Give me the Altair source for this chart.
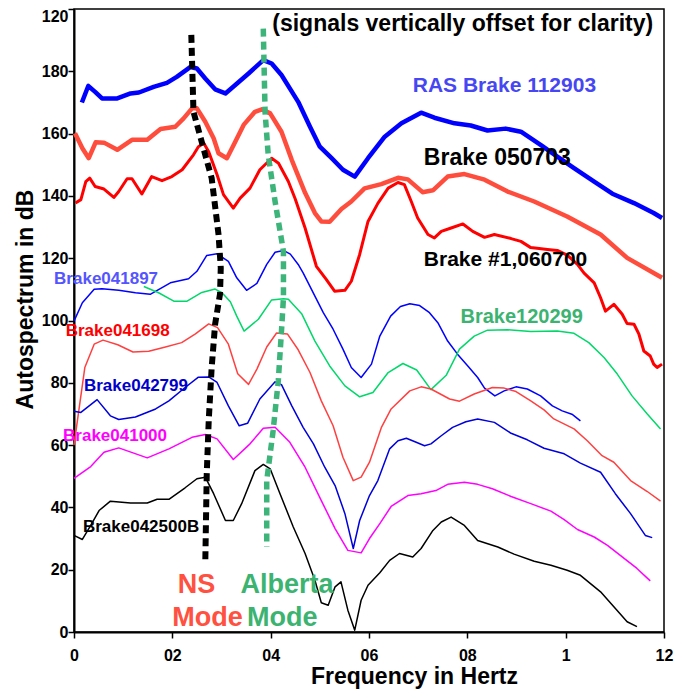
import altair as alt
import pandas as pd

# ---------------- data (frequency in Hz, autospectrum in dB, offset) ----------------
X_TICKS = [0, 0.2, 0.4, 0.6, 0.8, 1.0, 1.2]
Y_TICKS = [0, 20, 40, 60, 80, 100, 120, 140, 160, 180, 200]

RAS_112903 = [(0.016,170.0),(0.029,175.3),(0.043,173.4),(0.057,171.3),(0.088,171.3),(0.115,172.9),(0.132,173.2),
              (0.162,175.0),(0.189,176.3),(0.209,178.2),(0.237,181.4),(0.250,180.9),(0.267,177.7),(0.287,174.2),
              (0.308,172.9),(0.328,175.6),(0.355,179.3),(0.385,183.6),(0.402,182.5),(0.422,178.8),(0.456,170.2),
              (0.480,162.2),(0.500,155.8),(0.524,152.1),(0.547,148.4),(0.571,146.2),(0.598,152.1),(0.632,159.0),
              (0.666,163.3),(0.706,166.7),(0.733,165.1),(0.774,163.3),(0.807,162.6),(0.841,161.0),(0.878,161.6),
              (0.909,160.6),(0.949,156.4),(0.983,152.6),(1.017,148.9),(1.058,144.6),(1.095,140.7),(1.139,137.7),
              (1.179,134.5),(1.196,132.9)]

BRAKE_050703 = [(0.002,160.1),(0.017,155.3),(0.030,152.1),(0.044,157.2),(0.061,157.1),(0.088,154.8),(0.118,158.0),
                (0.149,158.0),(0.176,161.5),(0.206,162.2),(0.223,164.9),(0.240,168.1),(0.250,168.1),(0.267,163.8),
                (0.284,158.5),(0.294,153.7),(0.311,152.1),(0.328,157.4),(0.345,162.8),(0.368,167.0),(0.382,167.8),
                (0.399,166.5),(0.422,160.6),(0.443,151.5),(0.470,141.0),(0.490,134.5),(0.503,131.8),(0.520,131.7),
                (0.544,135.8),(0.564,138.2),(0.591,142.4),(0.625,143.8),(0.659,145.8),(0.679,145.3),(0.709,141.2),
                (0.730,141.8),(0.760,146.2),(0.794,147.0),(0.835,145.2),(0.882,141.4),(0.936,138.2),(1.003,133.4),
                (1.071,127.6),(1.125,120.1),(1.196,113.7)]

BRAKE_1_060700 = [(0.003,137.7),(0.014,138.8),(0.024,144.6),(0.032,145.7),(0.043,143.0),(0.061,142.2),(0.081,139.5),
                  (0.091,141.4),(0.108,145.5),(0.118,145.5),(0.138,140.6),(0.158,146.2),(0.179,144.9),(0.199,146.2),
                  (0.220,148.4),(0.243,153.2),(0.253,155.8),(0.264,156.9),(0.274,154.2),(0.291,146.8),(0.304,140.4),
                  (0.324,136.1),(0.338,139.3),(0.358,142.5),(0.378,148.4),(0.402,152.1),(0.416,150.5),(0.436,144.6),
                  (0.450,139.0),(0.470,129.7),(0.493,117.4),(0.513,113.2),(0.530,109.4),(0.551,109.7),(0.564,112.6),
                  (0.581,121.2),(0.598,131.8),(0.618,137.6),(0.639,142.5),(0.659,144.3),(0.672,143.6),(0.686,138.2),
                  (0.699,132.9),(0.720,127.6),(0.733,126.5),(0.747,128.6),(0.767,129.7),(0.791,131.0),(0.811,128.6),
                  (0.835,126.7),(0.855,127.6),(0.889,126.3),(0.909,125.4),(0.929,123.4),(0.963,122.8),(0.983,122.5),
                  (1.003,121.0),(1.024,118.0),(1.037,115.3),(1.058,112.1),(1.071,107.3),(1.081,103.0),(1.098,105.2),
                  (1.115,102.0),(1.125,99.0),(1.139,98.8),(1.149,95.6),(1.159,90.2),(1.172,88.6),(1.179,86.0),
                  (1.186,84.9),(1.196,86.0)]

BRAKE_041897 = [(0.0,99.8),(0.017,105.7),(0.041,110.0),(0.057,110.2),(0.091,109.7),(0.125,108.9),(0.155,108.4),
                (0.196,112.1),(0.233,113.4),(0.250,115.8),(0.270,120.9),(0.291,121.4),(0.314,119.0),(0.331,113.7),
                (0.351,109.7),(0.372,111.9),(0.392,118.0),(0.409,121.9),(0.426,122.5),(0.440,121.3),(0.456,118.0),
                (0.466,115.3),(0.507,102.5),(0.527,97.2),(0.547,90.8),(0.564,84.9),(0.584,81.7),(0.605,86.0),
                (0.622,95.0),(0.644,101.4),(0.664,104.5),(0.683,105.4),(0.703,104.8),(0.723,102.5),(0.740,99.3),
                (0.760,93.4),(0.780,89.2),(0.801,85.4),(0.821,81.7),(0.835,78.3),(0.856,75.8),(0.875,77.4),
                (0.899,78.7),(0.922,78.0),(0.949,75.8),(0.973,72.6),(0.993,71.0),(1.014,69.8),(1.030,67.8)]

BRAKE_120299 = [(0.142,110.9),(0.172,108.9),(0.203,106.2),(0.230,106.2),(0.260,109.0),(0.287,110.1),(0.301,108.9),
                (0.318,106.0),(0.331,101.4),(0.346,96.6),(0.375,100.4),(0.402,106.6),(0.426,107.0),(0.436,106.8),
                (0.463,102.2),(0.490,93.4),(0.520,85.4),(0.551,79.0),(0.581,75.5),(0.608,76.9),(0.639,83.3),
                (0.669,86.2),(0.697,84.1),(0.726,77.8),(0.757,82.4),(0.784,90.8),(0.814,95.0),(0.841,96.9),
                (0.882,97.0),(0.929,96.5),(0.983,96.6),(1.017,95.9),(1.047,92.9),(1.078,88.1),(1.105,82.8),
                (1.135,75.8),(1.166,70.0),(1.193,65.2)]

BRAKE_041698 = [(0.0,60.0),(0.022,84.9),(0.041,92.4),(0.059,93.7),(0.089,92.2),(0.120,89.9),(0.152,90.1),
                (0.184,91.4),(0.219,92.9),(0.247,95.7),(0.274,98.9),(0.292,97.7),(0.314,92.4),(0.333,82.9),
                (0.355,79.5),(0.372,84.4),(0.392,91.5),(0.412,96.0),(0.434,95.7),(0.456,90.6),(0.480,83.3),
                (0.503,74.2),(0.527,66.2),(0.547,56.1),(0.568,48.6),(0.584,49.7),(0.601,54.5),(0.625,65.6),
                (0.645,71.6),(0.683,77.4),(0.706,78.7),(0.726,78.0),(0.764,74.8),(0.784,74.1),(0.814,76.4),
                (0.851,78.5),(0.875,78.3),(0.899,77.2),(0.929,74.2),(0.956,71.3),(0.976,68.4),(1.017,65.2),
                (1.044,61.4),(1.074,56.6),(1.098,54.5),(1.132,48.6),(1.166,45.1),(1.193,42.0)]

BRAKE_042799 = [(0.0,70.9),(0.014,70.5),(0.047,74.6),(0.074,69.4),(0.091,68.2),(0.125,69.0),(0.166,71.6),
                (0.193,74.2),(0.226,78.5),(0.253,81.8),(0.274,81.9),(0.291,80.1),(0.314,72.6),(0.336,66.2),
                (0.353,67.0),(0.378,74.8),(0.409,80.3),(0.422,79.4),(0.443,72.6),(0.466,65.7),(0.487,60.4),
                (0.510,52.9),(0.531,47.0),(0.551,38.0),(0.568,26.8),(0.581,35.8),(0.601,43.8),(0.618,48.6),
                (0.642,58.8),(0.659,61.4),(0.676,62.2),(0.696,60.9),(0.713,59.8),(0.726,60.4),(0.747,63.0),
                (0.770,65.7),(0.797,67.5),(0.821,68.4),(0.855,67.3),(0.889,63.8),(0.922,61.7),(0.956,59.0),
                (0.997,57.2),(1.030,54.2),(1.071,51.3),(1.101,44.4),(1.132,38.0),(1.162,31.0),(1.176,30.3)]

BRAKE_041000 = [(0.0,49.3),(0.034,53.1),(0.061,57.7),(0.091,59.1),(0.149,55.9),(0.193,58.8),(0.240,62.5),
                (0.267,63.4),(0.291,62.0),(0.324,55.4),(0.358,60.4),(0.385,65.4),(0.409,65.7),(0.439,60.9),
                (0.470,52.9),(0.503,42.2),(0.531,33.2),(0.557,26.2),(0.584,25.4),(0.601,30.0),(0.622,34.8),
                (0.645,40.3),(0.679,43.8),(0.706,44.4),(0.736,45.4),(0.760,47.4),(0.794,48.1),(0.821,47.4),
                (0.851,46.0),(0.889,43.5),(0.929,41.2),(0.970,38.8),(0.997,36.1),(1.024,32.9),(1.058,30.5),
                (1.085,27.8),(1.115,24.1),(1.145,20.4),(1.172,16.4)]

BRAKE_042500B = [(0.0,31.0),(0.017,29.7),(0.034,34.2),(0.051,39.0),(0.074,42.0),(0.115,41.4),(0.149,41.4),
                 (0.169,42.6),(0.193,42.6),(0.226,46.3),(0.250,49.2),(0.267,49.7),(0.284,44.4),(0.308,35.8),
                 (0.324,35.8),(0.341,41.2),(0.368,51.8),(0.385,53.8),(0.399,52.4),(0.419,44.4),(0.446,33.7),
                 (0.470,25.2),(0.490,16.6),(0.503,9.4),(0.517,8.6),(0.531,14.5),(0.543,16.1),(0.557,7.0),
                 (0.571,0.6),(0.584,10.2),(0.598,15.0),(0.622,19.0),(0.642,23.0),(0.662,25.2),(0.689,24.1),
                 (0.706,26.8),(0.730,32.6),(0.747,35.3),(0.767,36.9),(0.794,34.2),(0.821,29.4),(0.862,27.3),
                 (0.895,25.0),(0.936,22.7),(0.970,21.4),(1.003,19.8),(1.030,18.2),(1.071,12.9),(1.098,8.1),
                 (1.125,3.3),(1.145,1.7)]

NS_MODE_TRACK = [(0.2386,191.7),(0.243,167.0),(0.280,145.7),(0.294,127.6),(0.2985,116.9),(0.297,108.5),
                 (0.287,98.8),(0.280,84.9),(0.274,67.8),(0.270,50.8),(0.267,22.0)]
ALBERTA_MODE_TRACK = [(0.385,193.7),(0.3886,167.0),(0.395,153.2),(0.409,138.2),(0.426,122.2),(0.426,107.3),
                      (0.422,96.6),(0.4155,80.6),(0.405,64.6),(0.392,48.6),(0.392,27.3)]

# label text and its anchor in data units (x Hz, y dB)
ANNOTATIONS = [
    ("(signals vertically offset for clarity)", 0.7906, 195.2),
    ("RAS Brake 112903", 0.689, 175.4),
    ("Brake 050703", 0.7115, 152.1),
    ("Brake #1,060700", 0.7115, 119.3),
    ("Brake041897", -0.0405, 113.2),
    ("Brake120299", 0.786, 101.1),
    ("Brake041698", -0.0169, 96.6),
    ("Brake042799", 0.0203, 79.0),
    ("Brake041000", -0.0223, 63.0),
    ("Brake042500B", 0.0182, 33.7),
    ("NS", 0.2493, 15.0),
    ("Mode", 0.2716, 4.5),
    ("Alberta", 0.4332, 15.0),
    ("Mode", 0.4237, 4.5),
]

# ---------------- styling ----------------
FONT = "Liberation Sans"
LINE_STYLE = [
    (RAS_112903, "#0000FF", 4.5, None),
    (BRAKE_050703, "#FF4D3D", 4.5, None),
    (BRAKE_1_060700, "#FF0000", 3.0, None),
    (BRAKE_041897, "#0000FF", 1.5, None),
    (BRAKE_120299, "#00D86A", 1.5, None),
    (BRAKE_041698, "#FF4040", 1.5, None),
    (BRAKE_042799, "#0000DD", 1.5, None),
    (BRAKE_041000, "#FF00FF", 1.5, None),
    (BRAKE_042500B, "#000000", 1.5, None),
    (NS_MODE_TRACK, "#000000", 6.0, [8, 5]),
    (ALBERTA_MODE_TRACK, "#3DB47A", 5.5, [8, 5]),
]
TEXT_STYLE = [
    ("#000000", 23, "center"),
    ("#4646F2", 21, "left"),
    ("#000000", 23, "left"),
    ("#000000", 21, "left"),
    ("#5555FF", 17, "left"),
    ("#3CB371", 20, "left"),
    ("#FF0000", 17, "left"),
    ("#0000CC", 17, "left"),
    ("#FF00FF", 17, "left"),
    ("#000000", 17, "left"),
    ("#FF5040", 27, "center"),
    ("#FF5040", 27, "center"),
    ("#3CB371", 27, "center"),
    ("#3CB371", 27, "center"),
]

x_enc = alt.X(
    "x:Q",
    scale=alt.Scale(domain=[0, 1.2], nice=False, zero=False),
    axis=alt.Axis(
        values=X_TICKS,
        labelExpr="replace(format(datum.value, '.1~f'), '.', '')",
        title="Frequency in Hertz",
        grid=False,
        labelFont=FONT, labelFontSize=16, labelFontWeight="bold", labelColor="black",
        labelPadding=9, labelFlush=False,
        tickColor="black", tickSize=6, tickWidth=1.5,
        domainColor="black", domainWidth=2,
        titleFont=FONT, titleFontSize=23, titleFontWeight="bold", titleColor="black",
        titleX=340, titleY=44, titleBaseline="middle", titleAlign="center",
    ),
)
y_enc = alt.Y(
    "y:Q",
    scale=alt.Scale(domain=[0, 200], nice=False, zero=False),
    axis=alt.Axis(
        values=Y_TICKS,
        labelExpr="datum.value == 200 ? '120' : datum.label",
        title="Autospectrum in dB",
        grid=False,
        labelFont=FONT, labelFontSize=16, labelFontWeight="bold", labelColor="black",
        labelPadding=0, labelFlush=False,
        labelOffset={"condition": {"test": "datum.value == 200", "value": 7}, "value": 0},
        tickColor="black", tickSize=6, tickWidth=1.5,
        domainColor="black", domainWidth=2,
        titleFont=FONT, titleFontSize=23, titleFontWeight="bold", titleColor="black",
        titleX=-49, titleY=290, titleBaseline="middle", titleAlign="center", titleAngle=270,
    ),
)

layers = []
for pts, color, width, dash in LINE_STYLE:
    df = pd.DataFrame({"x": [p[0] for p in pts], "y": [p[1] for p in pts], "i": list(range(len(pts)))})
    kw = dict(color=color, strokeWidth=width, strokeJoin="round")
    if dash:
        kw["strokeDash"] = dash
        kw["strokeCap"] = "butt"
    layers.append(alt.Chart(df).mark_line(**kw).encode(x=x_enc, y=y_enc, order="i:Q"))

for (txt, ax, ay), (color, size, align) in zip(ANNOTATIONS, TEXT_STYLE):
    df = pd.DataFrame({"x": [ax], "y": [ay], "t": [txt]})
    layers.append(
        alt.Chart(df).mark_text(
            font=FONT, fontWeight="bold", fontSize=size, color=color, align=align, baseline="middle"
        ).encode(x=x_enc, y=y_enc, text="t:N")
    )

chart = (
    alt.layer(*layers)
    .properties(
        width=590, height=623,
        autosize=alt.AutoSizeParams(type="none"),
        padding={"left": 66, "top": 1, "right": 10, "bottom": 58},
        background="white",
    )
    .configure_view(stroke="black", strokeWidth=1.5)
)

chart.save("out.html", embed_options={"renderer": "svg", "actions": False})
